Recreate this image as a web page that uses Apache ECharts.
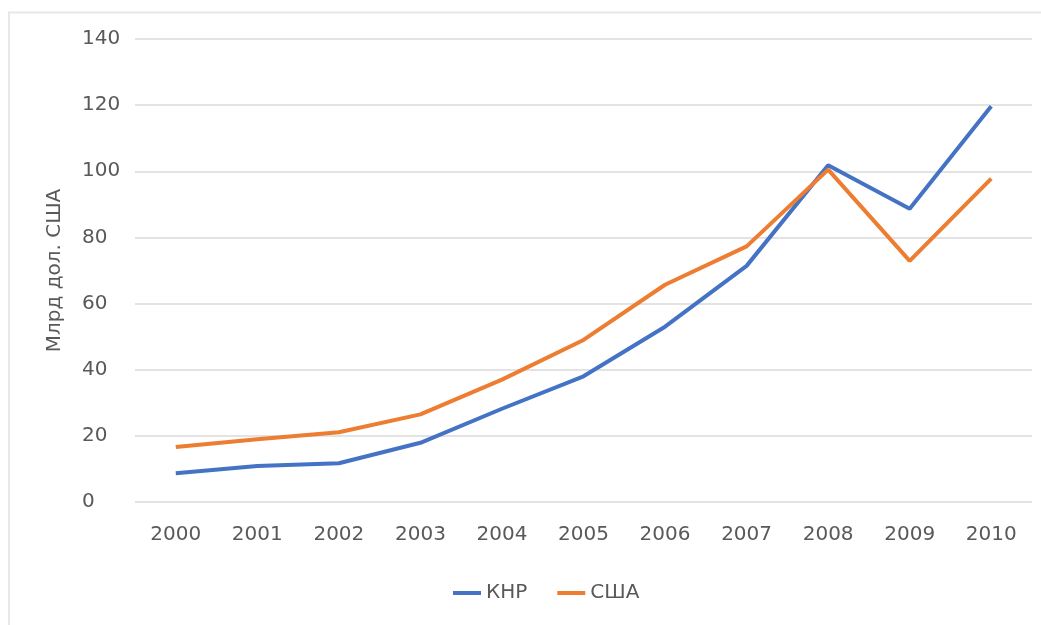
<!DOCTYPE html>
<html>
<head>
<meta charset="utf-8">
<script src="https://cdn.jsdelivr.net/npm/echarts@6/dist/echarts.min.js"></script>
<style>
  html, body { margin: 0; padding: 0; background: #fff; }
  #chart { width: 1041px; height: 625px; }
</style>
</head>
<body>
<div id="chart"></div>
<script>
// годы и значения (млрд дол. США)
const years = ['2000', '2001', '2002', '2003', '2004', '2005', '2006', '2007', '2008', '2009', '2010'];
const chinaValues = [8.7, 10.9, 11.7, 17.9, 28.2, 38.0, 53.0, 71.4, 101.8, 88.7, 119.7];
const usaValues = [16.6, 19.0, 21.1, 26.5, 37.0, 49.0, 65.7, 77.3, 100.5, 72.9, 97.8];
const seriesNames = ['КНР', 'США'];

const font = 'DejaVu Sans';
const textColor = '#595959';

const myChart = echarts.init(document.getElementById('chart'));

const option = {
  backgroundColor: '#fff',
  animation: false,
  graphic: [{
    type: 'rect',
    shape: { x: 9, y: 12.5, width: 1100, height: 700 },
    style: { fill: 'none', stroke: '#e8e8e8', lineWidth: 2 },
    silent: true
  }],
  grid: { left: 135, right: 9, top: 39, bottom: 123 },
  legend: {
    data: seriesNames,
    left: 448,
    top: 578,
    icon: 'rect',
    itemWidth: 28,
    itemHeight: 4,
    itemGap: 30,
    textStyle: { fontFamily: font, fontSize: 20, color: textColor }
  },
  xAxis: {
    type: 'category',
    data: years,
    boundaryGap: true,
    axisLine: { show: false },
    axisTick: { show: false },
    axisLabel: { fontFamily: font, fontSize: 20, color: textColor, margin: 23 }
  },
  yAxis: {
    type: 'value',
    min: 0,
    max: 140,
    interval: 20,
    name: 'Млрд дол. США',
    nameLocation: 'middle',
    nameGap: 70,
    nameTextStyle: { fontFamily: font, fontSize: 20, color: textColor },
    axisLine: { show: false },
    axisTick: { show: false },
    axisLabel: { fontFamily: font, fontSize: 20, color: textColor, align: 'left', margin: 53 },
    splitLine: { lineStyle: { color: '#e3e3e3', width: 2 } }
  },
  series: [
    {
      name: seriesNames[0],
      type: 'line',
      data: chinaValues,
      symbol: 'none',
      color: '#4472C4',
      lineStyle: { width: 4, color: '#4472C4' }
    },
    {
      name: seriesNames[1],
      type: 'line',
      data: usaValues,
      symbol: 'none',
      color: '#ED7D31',
      lineStyle: { width: 4, color: '#ED7D31' }
    }
  ]
};

myChart.setOption(option);
</script>
</body>
</html>
